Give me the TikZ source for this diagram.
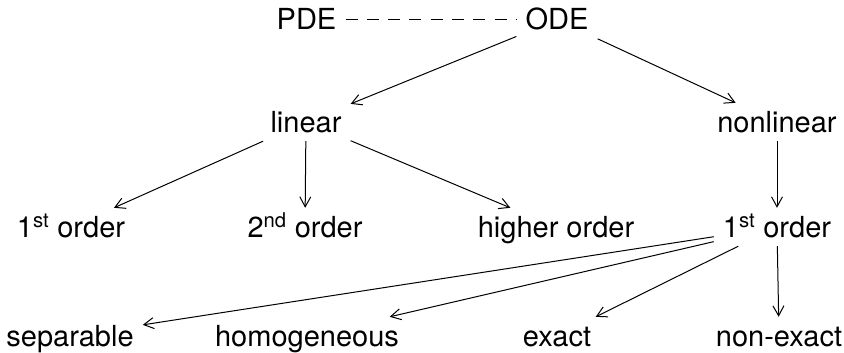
\documentclass[tikz,border=0pt]{standalone}
\usepackage{fontspec}
\setmainfont{TeX Gyre Heros}
\usetikzlibrary{arrows.meta}
\begin{document}
\begin{tikzpicture}[x=1pt,y=-1pt,
  lbl/.style={font=\fontsize{29}{33}\selectfont, anchor=base, text height=26pt, text depth=6pt, inner xsep=9pt, inner ysep=3pt},
  arr/.style={line width=1pt, -{Straight Barb[length=10pt,width=11pt,line width=1pt]}},
  dsh/.style={line width=1pt, dash pattern=on 12pt off 9.3pt}]
\useasboundingbox (0,0) rectangle (844,353);
\node[lbl] (pde) at (306.5,30) {PDE};
\node[lbl] (ode) at (557,30) {ODE};
\node[lbl] (lin) at (306,132) {linear};
\node[lbl] (nonlin) at (777,132) {nonlinear};
\node[lbl] (firstL) at (71,237) {1\textsuperscript{st} order};
\node[lbl] (second) at (305,237) {2\textsuperscript{nd} order};
\node[lbl] (higher) at (556,237) {higher order};
\node[lbl] (firstR) at (777,237) {1\textsuperscript{st} order};
\node[lbl] (sep) at (70,346) {separable};
\node[lbl] (homog) at (307,346) {homogeneous};
\node[lbl] (exact) at (557,346) {exact};
\node[lbl] (nonexact) at (779,346) {non-exact};
\draw[dsh] (pde) -- (ode);
\draw[arr] (ode) -- (lin);
\draw[arr] (ode) -- (nonlin);
\draw[arr] (lin) -- (firstL);
\draw[arr] (lin) -- (second);
\draw[arr] (lin) -- (higher);
\draw[arr] (nonlin) -- (firstR);
\draw[arr] (firstR) -- (sep);
\draw[arr] (firstR) -- (homog);
\draw[arr] (firstR) -- (exact);
\draw[arr] (firstR) -- (nonexact);
\end{tikzpicture}
\end{document}
